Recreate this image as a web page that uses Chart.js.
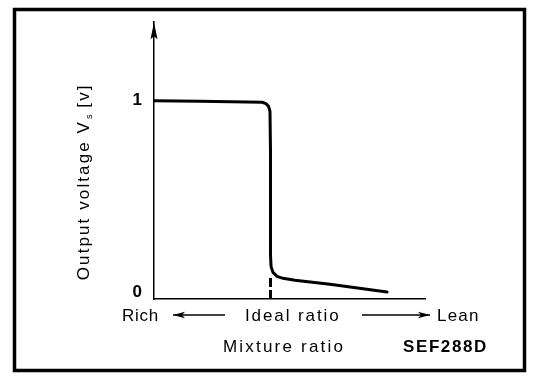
<!DOCTYPE html>
<html><head><meta charset="utf-8">
<script src="https://cdn.jsdelivr.net/npm/chart.js@4/dist/chart.umd.min.js"></script>
<style>html,body{margin:0;padding:0;background:#fff}canvas{display:block}</style>
</head><body>
<canvas id="c" width="560" height="380"></canvas>
<script>
// Data (relative units)
const mixtureRatio  = [0, 17.0, 39.9, 41.3, 42.3, 42.8, 43.0, 43.0, 43.0, 43.2, 43.9, 45.4, 47.6, 52.0, 64.9, 86.0];
const outputVoltage = [1.000, 0.997, 0.992, 0.985, 0.969, 0.944, 0.728, 0.472, 0.190, 0.133, 0.103, 0.082, 0.072, 0.062, 0.041, 0.000];
const idealRatio = 43.0;
const idealMarkerTop = 0.075;
const yTickValues = [0, 1];
const yRange = [-0.036, 1.41];
const xRange = [0, 100];
const yTitle = 'Output voltage V';
const yTitleSub = 's';
const yTitleUnit = ' [v]';
const xLabels = ['Rich', 'Ideal ratio', 'Lean'];
const xTitle = 'Mixture ratio';
const figureCode = 'SEF288D';

const curve = mixtureRatio.map((x, i) => ({x, y: outputVoltage[i]}));
const idealLine = [{x: idealRatio, y: yRange[0]}, {x: idealRatio, y: idealMarkerTop}];

const FONT = '"Liberation Sans", Arial, sans-serif';

function arrow(ctx, x1, x2, y, headAtStart) {
  ctx.save();
  ctx.strokeStyle = '#000'; ctx.fillStyle = '#000'; ctx.lineWidth = 1.5;
  ctx.beginPath(); ctx.moveTo(x1, y); ctx.lineTo(x2, y); ctx.stroke();
  const tip = headAtStart ? x1 : x2;
  const dir = headAtStart ? 1 : -1;
  ctx.beginPath();
  ctx.moveTo(tip, y);
  ctx.lineTo(tip + dir * 12, y - 3.2);
  ctx.lineTo(tip + dir * 9, y);
  ctx.lineTo(tip + dir * 12, y + 3.2);
  ctx.closePath(); ctx.fill();
  ctx.restore();
}

const decor = {
  id: 'decor',
  beforeDraw(chart) {
    const ctx = chart.ctx;
    ctx.save(); ctx.fillStyle = '#fff'; ctx.fillRect(0, 0, chart.width, chart.height); ctx.restore();
  },
  afterDraw(chart) {
    const ctx = chart.ctx;
    const a = chart.chartArea;
    ctx.save();
    ctx.fillStyle = '#000';
    // y axis arrow head
    ctx.beginPath();
    ctx.moveTo(a.left, a.top);
    ctx.lineTo(a.left - 3.5, a.top + 17);
    ctx.lineTo(a.left, a.top + 14);
    ctx.lineTo(a.left + 3.5, a.top + 17);
    ctx.closePath(); ctx.fill();

    // y title (rotated)
    ctx.save();
    ctx.translate(a.left - 65, a.top + 258);
    ctx.rotate(-Math.PI / 2);
    ctx.textBaseline = 'alphabetic'; ctx.textAlign = 'left';
    ctx.font = '17px ' + FONT;
    ctx.letterSpacing = '2.1px';
    ctx.fillText(yTitle, 0, 0);
    let w = ctx.measureText(yTitle).width;
    ctx.font = '9px ' + FONT;
    ctx.letterSpacing = '0px';
    ctx.fillText(yTitleSub, w + 1, 3);
    w += ctx.measureText(yTitleSub).width + 1;
    ctx.font = '17px ' + FONT;
    ctx.letterSpacing = '2.1px';
    ctx.fillText(yTitleUnit, w, 0);
    ctx.restore();

    // bottom row
    const base1 = a.bottom + 22;
    ctx.textBaseline = 'alphabetic'; ctx.textAlign = 'left';
    ctx.font = '17px ' + FONT;
    ctx.letterSpacing = '0.7px';
    ctx.fillText(xLabels[0], a.left - 32, base1);
    ctx.letterSpacing = '1.9px';
    ctx.fillText(xLabels[1], a.left + 91, base1);
    ctx.letterSpacing = '1.2px';
    ctx.fillText(xLabels[2], a.left + 283, base1);
    arrow(ctx, a.left + 19, a.left + 71, a.bottom + 16, true);
    arrow(ctx, a.left + 208, a.left + 276, a.bottom + 16, false);

    const base2 = a.bottom + 53;
    ctx.letterSpacing = '2.2px';
    ctx.fillText(xTitle, a.left + 69, base2);
    ctx.font = 'bold 17px ' + FONT;
    ctx.letterSpacing = '1.6px';
    ctx.fillText(figureCode, a.left + 249, base2);
    ctx.letterSpacing = '0px';

    // frame
    ctx.strokeStyle = '#000'; ctx.lineWidth = 3.5;
    ctx.strokeRect(14.5, 9.5, 510, 361);
    ctx.restore();
  }
};

new Chart(document.getElementById('c'), {
  type: 'scatter',
  data: {
    datasets: [
      {data: curve, showLine: true, borderColor: '#000', borderWidth: 3, pointRadius: 0, tension: 0,
       borderCapStyle: 'round', borderJoinStyle: 'round'},
      {data: idealLine, showLine: true, borderColor: '#000', borderWidth: 3, pointRadius: 0,
       borderDash: [9, 3]}
    ]
  },
  options: {
    responsive: false,
    animation: false,
    events: [],
    layout: {padding: {top: 17, right: 135, left: 0, bottom: 0}},
    plugins: {legend: {display: false}, tooltip: {enabled: false}},
    scales: {
      x: {
        type: 'linear', min: xRange[0], max: xRange[1],
        grid: {display: false, drawTicks: false},
        border: {display: true, color: '#000', width: 1.5},
        ticks: {display: false},
        afterFit(s) { s.height = 81; }
      },
      y: {
        type: 'linear', min: yRange[0], max: yRange[1],
        grid: {display: false, drawTicks: false},
        border: {display: true, color: '#000', width: 1.5},
        afterBuildTicks(s) { s.ticks = yTickValues.map(v => ({value: v})); },
        ticks: {color: '#000', padding: 12, font: {family: FONT, size: 17, weight: 'bold'},
                callback: v => String(v)},
        afterFit(s) { s.width = 154; }
      }
    }
  },
  plugins: [decor]
});
</script>
</body></html>
